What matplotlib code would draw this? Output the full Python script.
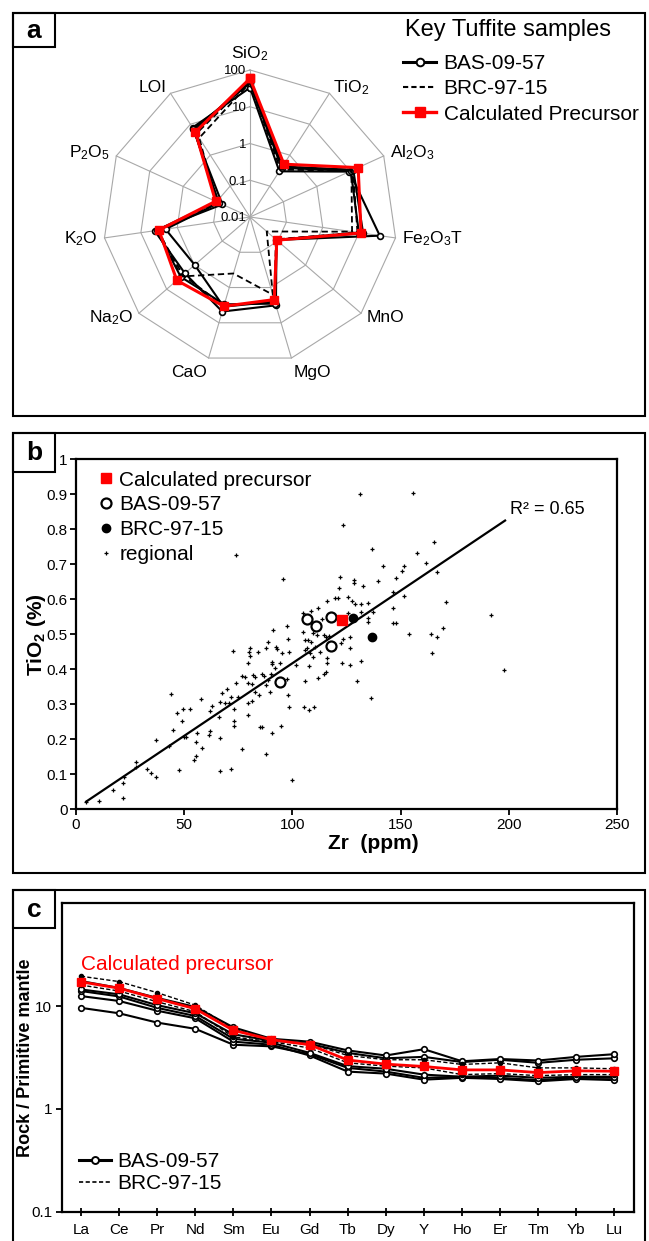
import numpy as np
import matplotlib
matplotlib.use('Agg')
import matplotlib.pyplot as plt
from matplotlib.lines import Line2D
from matplotlib.patches import Rectangle
from matplotlib.ticker import NullLocator, FixedLocator

plt.rcParams['font.family'] = ['Liberation Sans', 'DejaVu Sans']
plt.rcParams['mathtext.fontset'] = 'custom'
plt.rcParams['mathtext.rm'] = 'Liberation Sans'
plt.rcParams['mathtext.it'] = 'Liberation Sans:italic'
plt.rcParams['mathtext.bf'] = 'Liberation Sans:bold'
plt.rcParams['mathtext.default'] = 'regular'

# ---------------- data: panel a (radar, wt% log scale) ----------------
oxides = ['SiO$_2$', 'TiO$_2$', 'Al$_2$O$_3$', 'Fe$_2$O$_3$T', 'MnO', 'MgO',
          'CaO', 'Na$_2$O', 'K$_2$O', 'P$_2$O$_5$', 'LOI']
ring_values = [0.01, 0.1, 1, 10, 100]
ring_labels = ['0.01', '0.1', '1', '10', '100']
bas_a1 = [33, 0.30, 9.4, 37, 0.090, 3.2, 4.8, 2.2, 4.2, 0.067, 7.8]
bas_a2 = [44, 0.39, 10.4, 9.8, 0.090, 2.5, 3.5, 0.98, 2.1, 0.085, 7.0]
bas_a3 = [53, 0.43, 12.3, 12.9, 0.088, 2.86, 3.0, 3.1, 3.7, 0.10, 6.1]
brc_a1 = [45, 0.34, 10.8, 6.4, 0.040, 1.6, 0.40, 2.96, 3.4, 0.10, 3.6]
brc_a2 = [50, 0.42, 12.0, 9.0, 0.085, 2.4, 3.3, 2.6, 3.5, 0.09, 5.0]
precursor_a = [59, 0.51, 17.2, 11.3, 0.092, 2.2, 3.4, 4.3, 3.2, 0.107, 5.6]

# ---------------- data: panel b (TiO2 vs Zr) ----------------
regional_zr = [4.8, 10.9, 17.2, 21.7, 22.1, 21.9, 28.0, 28.0, 32.9, 34.7, 36.9, 36.9, 42.9, 44.0,
               44.9, 46.9, 47.8, 48.9, 49.5, 49.8, 51.0, 52.9, 54.7, 55.7, 55.7, 56.1, 57.8, 58.1,
               61.7, 61.8, 61.8, 62.8, 66.5, 66.5, 66.1, 66.8, 67.7, 68.9, 69.7, 70.9, 71.7, 71.7,
               72.9, 72.8, 72.9, 72.9,
               74.0, 95.9, 122.2, 128.5, 128.5, 121.7, 132.8, 125.9, 127.7, 129.0, 131.7, 134.8,
               119.7, 121.3, 115.9, 112.0, 108.7, 105.1, 113.9, 125.9, 131.7, 134.8, 134.8, 109.7,
               111.3, 105.1, 105.9, 107.4, 108.6, 114.8, 115.4, 117.0, 123.6, 122.5, 126.7, 126.7,
               110.5, 106.7, 105.9, 108.2, 109.7, 107.7, 112.8, 115.9, 115.9, 115.4, 114.8, 111.7,
               122.8, 126.7, 131.7, 129.7, 136.4, 105.9, 97.9, 98.5, 105.6, 107.7, 110.2, 97.4,
               91.0, 97.7, 98.2, 88.9, 80.5, 80.0, 84.0, 87.7, 92.3, 92.8, 95.1, 98.6, 80.5, 79.7,
               90.5, 90.5, 92.0, 94.3, 101.7, 90.2, 85.9, 87.1, 82.0, 82.8, 76.6, 78.2, 74.0, 79.4,
               81.5, 88.9, 87.7, 89.7, 82.8, 84.6, 74.8, 79.7, 81.5, 79.7, 85.1, 86.2, 90.5, 94.8,
               76.9, 87.7, 99.7,
               155.6, 136.7, 165.5, 157.8, 141.8, 151.6, 150.5, 161.6, 166.7, 147.8, 139.7, 146.7,
               151.6, 137.1, 146.7, 146.7, 147.8, 171.0, 153.9, 164.1, 166.7, 169.8, 164.7, 191.6,
               197.9, 131.3, 123.6]
regional_ti = [0.022, 0.024, 0.056, 0.076, 0.091, 0.031, 0.136, 0.122, 0.114, 0.105, 0.092, 0.198,
               0.181, 0.329, 0.227, 0.274, 0.111, 0.253, 0.286, 0.206, 0.208, 0.286, 0.141, 0.152,
               0.193, 0.217, 0.316, 0.175, 0.213, 0.225, 0.282, 0.295, 0.203, 0.110, 0.263, 0.306,
               0.331, 0.303, 0.343, 0.305, 0.320, 0.116, 0.287, 0.453, 0.251, 0.239,
               0.727, 0.657, 0.663, 0.655, 0.647, 0.631, 0.638, 0.607, 0.596, 0.588, 0.588, 0.590,
               0.603, 0.603, 0.596, 0.574, 0.567, 0.562, 0.543, 0.562, 0.565, 0.546, 0.536, 0.503,
               0.498, 0.507, 0.484, 0.484, 0.479, 0.498, 0.491, 0.495, 0.486, 0.476, 0.491, 0.460,
               0.465, 0.460, 0.455, 0.446, 0.436, 0.409, 0.450, 0.431, 0.417, 0.393, 0.387, 0.374,
               0.417, 0.412, 0.424, 0.367, 0.317, 0.367, 0.327, 0.293, 0.291, 0.284, 0.293, 0.371,
               0.512, 0.524, 0.486, 0.479, 0.460, 0.450, 0.450, 0.460, 0.465, 0.457, 0.446, 0.450,
               0.438, 0.419, 0.422, 0.414, 0.403, 0.417, 0.412, 0.387, 0.387, 0.381, 0.384, 0.379,
               0.381, 0.379, 0.362, 0.360, 0.357, 0.369, 0.355, 0.336, 0.336, 0.327, 0.322, 0.303,
               0.310, 0.269, 0.236, 0.234, 0.219, 0.238, 0.173, 0.158, 0.084,
               0.903, 0.744, 0.763, 0.733, 0.695, 0.695, 0.682, 0.703, 0.678, 0.662, 0.652, 0.622,
               0.609, 0.565, 0.574, 0.531, 0.531, 0.592, 0.501, 0.501, 0.491, 0.517, 0.446, 0.554,
               0.398, 0.901, 0.812]
bas_zr = [106.9, 110.9, 118.0, 118.0, 94.1]
bas_ti = [0.543, 0.524, 0.550, 0.468, 0.363]
brc_zr = [128.0, 136.8]
brc_ti = [0.546, 0.493]
prec_zr = [123.0]
prec_ti = [0.541]
fit_zr = [4.8, 198.3]
fit_ti = [0.022, 0.825]
xticks_b = [0, 50, 100, 150, 200, 250]
yticks_b = [0, 0.1, 0.2, 0.3, 0.4, 0.5, 0.6, 0.7, 0.8, 0.9, 1.0]
yticklabels_b = ['0', '0.1', '0.2', '0.3', '0.4', '0.5', '0.6', '0.7', '0.8', '0.9', '1']

# ---------------- data: panel c (REE spider) ----------------
ree = ['La', 'Ce', 'Pr', 'Nd', 'Sm', 'Eu', 'Gd', 'Tb', 'Dy', 'Y', 'Ho', 'Er', 'Tm', 'Yb', 'Lu']
bas_c1 = [17.5, 15.0, 12.0, 9.8, 6.2, 4.8, 4.5, 3.7, 3.3, 3.8, 2.9, 3.05, 2.95, 3.2, 3.4]
bas_c2 = [14.5, 13.0, 10.2, 8.5, 5.3, 4.6, 4.3, 3.5, 3.1, 3.2, 2.85, 3.0, 2.8, 3.0, 3.1]
bas_c3 = [14.0, 12.4, 9.6, 8.0, 4.8, 4.4, 3.5, 2.6, 2.45, 2.15, 2.05, 2.1, 2.0, 2.05, 2.05]
bas_c4 = [12.5, 11.2, 9.0, 7.6, 4.5, 4.2, 3.3, 2.3, 2.2, 1.92, 2.0, 1.95, 1.85, 1.95, 1.9]
bas_c5 = [9.6, 8.5, 6.9, 6.0, 4.2, 4.05, 3.4, 2.5, 2.3, 2.0, 2.05, 2.0, 1.9, 2.0, 2.0]
brc_c1 = [19.5, 17.3, 13.5, 10.2, 6.0, 4.7, 4.3, 3.3, 3.0, 3.0, 2.7, 2.8, 2.5, 2.5, 2.45]
brc_c2 = [16.0, 14.0, 11.0, 8.8, 5.0, 4.5, 3.9, 2.8, 2.6, 2.5, 2.15, 2.2, 2.1, 2.15, 2.15]
prec_c = [17.2, 14.9, 11.8, 9.4, 5.8, 4.7, 4.2, 2.98, 2.72, 2.58, 2.39, 2.39, 2.25, 2.34, 2.32]
yticks_c = [0.1, 1, 10]
yticklabels_c = ['0.1', '1', '10']

# ---------------- figure ----------------
W, H = 649, 1241
fig = plt.figure(figsize=(W / 100, H / 100), dpi=100)


def rect(x0, y0, x1, y1):
    return [x0 / W, 1 - y1 / H, (x1 - x0) / W, (y1 - y0) / H]


# panel frames and letter boxes
for (y0, y1, letter, yl) in [(13, 416, 'a', 47), (433, 873, 'b', 472), (890, 1265, 'c', 928)]:
    fig.add_artist(Rectangle((13 / W, 1 - y1 / H), (645 - 13) / W, (y1 - y0) / H,
                             transform=fig.transFigure, fill=False, lw=1.5, ec='k'))
    fig.add_artist(Rectangle((13 / W, 1 - yl / H), (55 - 13) / W, (yl - y0) / H,
                             transform=fig.transFigure, fill=False, lw=1.5, ec='k'))
    fig.text(34 / W, 1 - ((y0 + yl) / 2 + 1) / H, letter, fontsize=19, fontweight='bold',
             ha='center', va='center')

# ---------------- panel a ----------------
axa = fig.add_axes(rect(103, 70, 397, 364), projection='polar')
axa.set_theta_zero_location('N')
axa.set_theta_direction(-1)
axa.set_rscale('log')
axa.set_rlim(0.01, 100)
axa.axis('off')
n = len(oxides)
th = np.arange(n) * 2 * np.pi / n
thc = np.r_[th, th[0]]
grid_col = '#a8a8a8'
for v in ring_values[1:]:
    axa.plot(thc, [v] * (n + 1), color=grid_col, lw=0.8, zorder=1, clip_on=False)
for t in th:
    axa.plot([t, t], [ring_values[0], ring_values[-1]], color=grid_col, lw=0.8, zorder=1, clip_on=False)
for v, lab in zip(ring_values, ring_labels):
    axa.annotate(lab, xy=(0, v), xytext=(-2.5, -1), textcoords='offset points',
                 ha='right', va='center', fontsize=9.5, zorder=2)


def closed(vals):
    return np.r_[vals, vals[0]]


for s in [bas_a1, bas_a2, bas_a3]:
    axa.plot(thc, closed(s), color='k', lw=1.5, marker='o', ms=4.2, mfc='white', mec='k',
             mew=1.2, zorder=3, clip_on=False)
for s in [brc_a1, brc_a2]:
    axa.plot(thc, closed(s), color='k', lw=1.3, ls=(0, (3.5, 2)), zorder=3, clip_on=False)
axa.plot(thc, closed(precursor_a), color='#ff0000', lw=2.2, marker='s', ms=6, mfc='#ff0000',
         mec='#ff0000', zorder=4, clip_on=False)

pad = 5
for t, lab in zip(th, oxides):
    phi = np.pi / 2 - t
    c, s = np.cos(phi), np.sin(phi)
    ha = 'left' if c > 0.2 else ('right' if c < -0.2 else 'center')
    va = 'bottom' if s > 0.9 else ('top' if s < -0.9 else 'center')
    axa.annotate(lab, xy=(t, 100), xytext=(pad * c, pad * s), textcoords='offset points',
                 ha=ha, va=va, fontsize=12.5)

fig.text(405 / W, 1 - 30 / H, 'Key Tuffite samples', fontsize=17, ha='left', va='center')
handles_a = [
    Line2D([], [], color='k', lw=2.2, marker='o', ms=5.5, mfc='white', mec='k', mew=1.4),
    Line2D([], [], color='k', lw=1.5, ls=(0, (2.5, 1.5))),
    Line2D([], [], color='#ff0000', lw=2.4, marker='s', ms=7, mfc='#ff0000', mec='#ff0000'),
]
fig.legend(handles_a, ['BAS-09-57', 'BRC-97-15', 'Calculated Precursor'],
           loc='upper left', bbox_to_anchor=(403 / W, 1 - 54 / H), frameon=False,
           fontsize=15, handlelength=1.6, handletextpad=0.35, labelspacing=0.3,
           borderpad=0, borderaxespad=0)

# ---------------- panel b ----------------
axb = fig.add_axes(rect(75.8, 459.3, 617, 809.3))
axb.scatter(regional_zr, regional_ti, marker='+', s=6, lw=0.9, color='k', zorder=2)
axb.plot(fit_zr, fit_ti, color='k', lw=1.6, zorder=3)
axb.plot(bas_zr, bas_ti, ls='none', marker='o', ms=7.2, mfc='white', mec='k', mew=1.6, zorder=4)
axb.plot(brc_zr, brc_ti, ls='none', marker='o', ms=6, mfc='k', mec='k', zorder=4)
axb.plot(prec_zr, prec_ti, ls='none', marker='s', ms=7, mfc='#ff0000', mec='#ff0000', zorder=5)
axb.set_xlim(0, 250)
axb.set_ylim(0, 1)
axb.set_xticks(xticks_b)
axb.set_yticks(yticks_b)
axb.set_yticklabels(yticklabels_b)
axb.tick_params(direction='out', length=4, width=1.3, labelsize=11, pad=2)
for sp in axb.spines.values():
    sp.set_linewidth(1.6)
axb.text(200.5, 0.858, 'R² = 0.65', fontsize=13, ha='left', va='center')
axb.set_ylabel('TiO$_2$ (%)', fontsize=15, fontweight='bold', va='center')
axb.yaxis.set_label_coords(-0.0717, 0.5)
axb.set_xlabel('Zr  (ppm)', fontsize=15, fontweight='bold', va='center')
axb.xaxis.set_label_coords(0.55, -0.098)
handles_b = [
    Line2D([], [], ls='none', marker='s', ms=7, mfc='#ff0000', mec='#ff0000'),
    Line2D([], [], ls='none', marker='o', ms=7.2, mfc='white', mec='k', mew=1.6),
    Line2D([], [], ls='none', marker='o', ms=6, mfc='k', mec='k'),
    Line2D([], [], ls='none', marker='+', ms=3, mew=0.9, color='k'),
]
axb.legend(handles_b, ['Calculated precursor', 'BAS-09-57', 'BRC-97-15', 'regional'],
           loc='upper left', bbox_to_anchor=(0.0416, 0.968), frameon=False, fontsize=15,
           handlelength=0.7, handletextpad=0.3, labelspacing=0.28, borderpad=0, borderaxespad=0)

# ---------------- panel c ----------------
axc = fig.add_axes(rect(61.9, 903.3, 633.5, 1211.5))
xc = np.arange(len(ree))
for s in [bas_c5, bas_c4, bas_c3, bas_c2, bas_c1]:
    axc.plot(xc, s, color='k', lw=1.5, marker='o', ms=4, mfc='white', mec='k', mew=1.2, zorder=3)
for s in [brc_c1, brc_c2]:
    axc.plot(xc, s, color='k', lw=1.0, ls=(0, (3, 1.6)), marker='o', ms=3, mfc='k', mec='k', zorder=3)
axc.plot(xc, prec_c, color='#ff0000', lw=2.0, marker='s', ms=6, mfc='#ff0000', mec='#ff0000', zorder=4)
axc.set_yscale('log')
axc.set_xlim(-0.5, len(ree) - 0.5)
axc.set_ylim(0.1, 100)
axc.yaxis.set_major_locator(FixedLocator(yticks_c))
axc.yaxis.set_minor_locator(NullLocator())
axc.set_yticklabels(yticklabels_c)
axc.set_xticks(xc)
axc.set_xticklabels(ree)
axc.tick_params(axis='y', direction='out', length=4, width=1.3, labelsize=11, pad=3)
axc.tick_params(axis='x', direction='inout', length=6, width=1.3, labelsize=11, pad=5)
for sp in axc.spines.values():
    sp.set_linewidth(1.6)
axc.text(0, 25.6, 'Calculated precursor', color='#ff0000', fontsize=15, ha='left', va='center')
axc.set_ylabel('Rock / Primitive mantle', fontsize=13, fontweight='bold', va='center')
axc.yaxis.set_label_coords(-0.0633, 0.498)
handles_c = [
    Line2D([], [], color='k', lw=2.2, marker='o', ms=5, mfc='white', mec='k', mew=1.4),
    Line2D([], [], color='k', lw=1.2, ls=(0, (2.5, 1.5))),
]
axc.legend(handles_c, ['BAS-09-57', 'BRC-97-15'], loc='lower left',
           bbox_to_anchor=(0.03, 0.06), frameon=False, fontsize=15, handlelength=1.55,
           handletextpad=0.3, labelspacing=0.15, borderpad=0, borderaxespad=0)

fig.savefig('out.png', dpi=100)
